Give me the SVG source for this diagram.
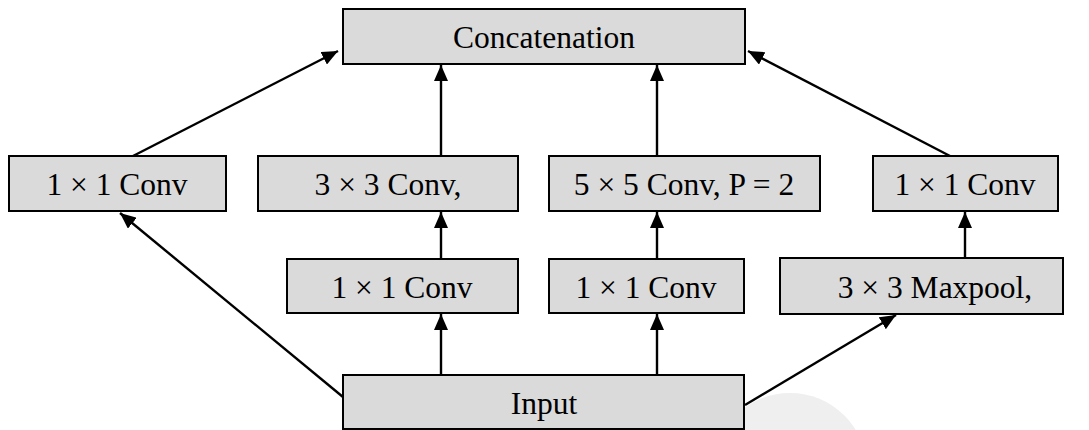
<svg xmlns="http://www.w3.org/2000/svg" width="1089" height="430" viewBox="0 0 1089 430">
<style>
.box{fill:#dadada;stroke:#000;stroke-width:2}
.lbl{font-family:"Liberation Serif","Times New Roman",serif;font-size:31.5px;fill:#000;text-anchor:middle}
.edge{stroke:#000;stroke-width:2.4;fill:none}
</style>
<defs>
<marker id="ah" viewBox="0 0 16 14" refX="16" refY="7" markerWidth="16" markerHeight="14" markerUnits="userSpaceOnUse" orient="auto">
<path d="M0,0 L16,7 L0,14 Z" fill="#000"/>
</marker>
</defs>
<rect width="1089" height="430" fill="#fff"/>
<circle cx="790" cy="470" r="77" fill="#efefef"/>
<g id="connectors">
<line class="edge" x1="133" y1="156" x2="338" y2="51" marker-end="url(#ah)"/>
<line class="edge" x1="441" y1="156" x2="441" y2="65" marker-end="url(#ah)"/>
<line class="edge" x1="657" y1="156" x2="657" y2="65" marker-end="url(#ah)"/>
<line class="edge" x1="950" y1="156" x2="748" y2="51" marker-end="url(#ah)"/>
<line class="edge" x1="441" y1="259" x2="441" y2="212" marker-end="url(#ah)"/>
<line class="edge" x1="657" y1="259" x2="657" y2="212" marker-end="url(#ah)"/>
<line class="edge" x1="965" y1="258" x2="965" y2="212" marker-end="url(#ah)"/>
<line class="edge" x1="441" y1="375" x2="441" y2="314" marker-end="url(#ah)"/>
<line class="edge" x1="657" y1="375" x2="657" y2="314" marker-end="url(#ah)"/>
<line class="edge" x1="343" y1="397" x2="120" y2="213" marker-end="url(#ah)"/>
<line class="edge" x1="745" y1="405" x2="896" y2="315" marker-end="url(#ah)"/>
</g>
<g id="concat"><rect class="box" x="343" y="9" width="402" height="55"/><text class="lbl" x="544" y="48">Concatenation</text></g>
<g id="conv1x1_a"><rect class="box" x="9" y="156" width="217" height="55"/><text class="lbl" x="117" y="195">1 × 1 Conv</text></g>
<g id="conv3x3"><rect class="box" x="258" y="156" width="260" height="55"/><text class="lbl" x="388" y="195">3 × 3 Conv,</text></g>
<g id="conv5x5"><rect class="box" x="549" y="156" width="271" height="55"/><text class="lbl" x="684" y="195">5 × 5 Conv, P = 2</text></g>
<g id="conv1x1_d"><rect class="box" x="873" y="156" width="185" height="55"/><text class="lbl" x="965" y="195">1 × 1 Conv</text></g>
<g id="conv1x1_b"><rect class="box" x="287" y="259" width="231" height="54"/><text class="lbl" x="402" y="298">1 × 1 Conv</text></g>
<g id="conv1x1_c"><rect class="box" x="549" y="259" width="195" height="54"/><text class="lbl" x="646" y="298">1 × 1 Conv</text></g>
<g id="maxpool"><rect class="box" x="780" y="258" width="283" height="56"/><text class="lbl" x="935" y="298">3 × 3 Maxpool,</text></g>
<g id="input"><rect class="box" x="343" y="375" width="401" height="54"/><text class="lbl" x="544" y="414">Input</text></g>
</svg>
